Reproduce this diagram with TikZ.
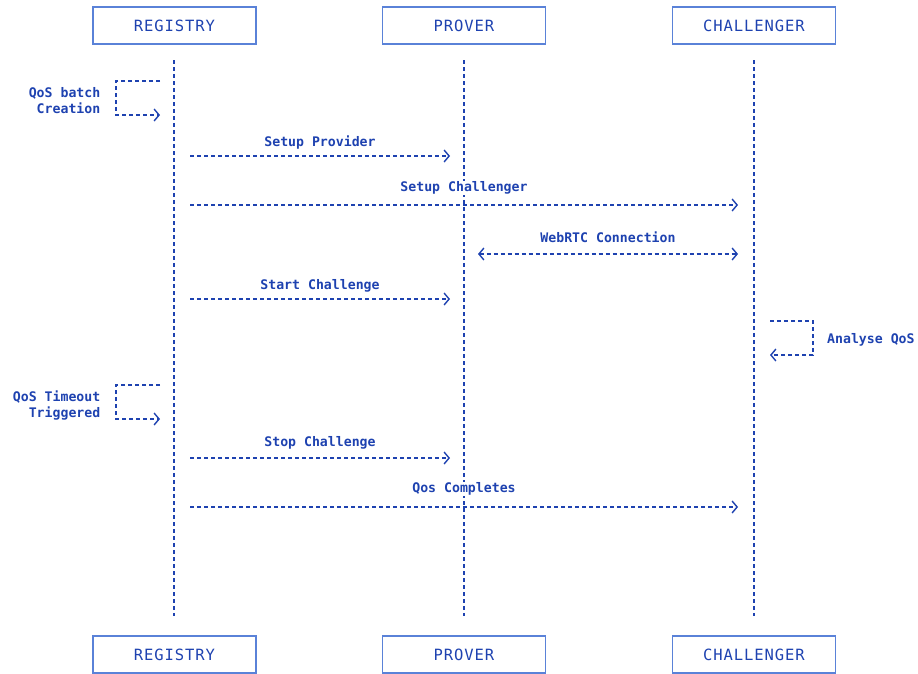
\documentclass[tikz,border=0pt]{standalone}
\usepackage{fontspec}
\setmonofont{DejaVu Sans Mono}
\usetikzlibrary{arrows.meta}
\definecolor{ink}{HTML}{1E42B0}
\definecolor{frame}{HTML}{5A82D8}
\newfontfamily\headfont[LetterSpace=6]{DejaVu Sans Mono}
\begin{document}
\begin{tikzpicture}[x=1pt,y=-1pt,
  >={Straight Barb[length=5pt,width=12pt,line width=1.4pt]},
  actor/.style={draw=frame, line width=1.1pt, minimum width=163pt, minimum height=37pt,
    inner sep=0pt, text=ink, font=\headfont\fontsize{15.5}{17}\selectfont},
  life/.style={draw=ink, line width=1.5pt, dash pattern=on 4pt off 3pt},
  msg/.style={draw=ink, line width=1.4pt, dash pattern=on 4pt off 3pt, ->},
  lbl/.style={text=ink, font=\ttfamily\bfseries\fontsize{13.2}{16}\selectfont,
    inner xsep=3pt, inner ysep=1pt},
  tag/.style={lbl, fill=white},
  note/.style={lbl, align=right, anchor=east, inner sep=0pt}]
\useasboundingbox (0,0) rectangle (918,673);

% participants, top and bottom
\node[actor] (regT) at (174.5,25.5) {REGISTRY};
\node[actor] (proT) at (464,25.5) {PROVER};
\node[actor] (chaT) at (754,25.5) {CHALLENGER};
\node[actor] (regB) at (174.5,654.5) {REGISTRY};
\node[actor] (proB) at (464,654.5) {PROVER};
\node[actor] (chaB) at (754,654.5) {CHALLENGER};

% lifelines
\coordinate (regS) at (174,60); \coordinate (regE) at (174,616);
\coordinate (proS) at (464,60); \coordinate (proE) at (464,616);
\coordinate (chaS) at (754,60); \coordinate (chaE) at (754,616);
\draw[life] (regS) -- (regE);
\draw[life] (proS) -- (proE);
\draw[life] (chaS) -- (chaE);

% message end points
\coordinate (r1) at (190,156); \coordinate (p1) at (450,156);
\coordinate (r2) at (190,205); \coordinate (c2) at (738,205);
\coordinate (p3) at (478,254); \coordinate (c3) at (738,254);
\coordinate (r4) at (190,299); \coordinate (p4) at (450,299);
\coordinate (r5) at (190,458); \coordinate (p5) at (450,458);
\coordinate (r6) at (190,507); \coordinate (c6) at (738,507);

% self calls
\coordinate (qa) at (160,81); \coordinate (qb) at (160,115);
\draw[msg] (qa) -- (116,81) -- (116,115) -- (qb);
\node[note] (qosbatch) at (100.5,101) {QoS batch\\Creation};

\coordinate (aa) at (770,321); \coordinate (ab) at (770,355);
\draw[msg] (aa) -- (813,321) -- (813,355) -- (ab);
\node[note, anchor=west] (analyse) at (827,340) {Analyse QoS};

\coordinate (ta) at (160,385); \coordinate (tb) at (160,419);
\draw[msg] (ta) -- (116,385) -- (116,419) -- (tb);
\node[note] (timeout) at (100.5,405.5) {QoS Timeout\\Triggered};

% messages
\draw[msg] (r1) -- node[tag, above=5pt] (m1) {Setup Provider} (p1);
\draw[msg] (r2) -- node[tag, above=9pt] (m2) {Setup Challenger} (c2);
\draw[msg, <->] (p3) -- node[tag, above=10pt] (m3) {WebRTC Connection} (c3);
\draw[msg] (r4) -- node[tag, above=5pt] (m4) {Start Challenge} (p4);
\draw[msg] (r5) -- node[tag, above=7pt] (m5) {Stop Challenge} (p5);
\draw[msg] (r6) -- node[tag, above=10pt] (m6) {Qos Completes} (c6);
\end{tikzpicture}
\end{document}
